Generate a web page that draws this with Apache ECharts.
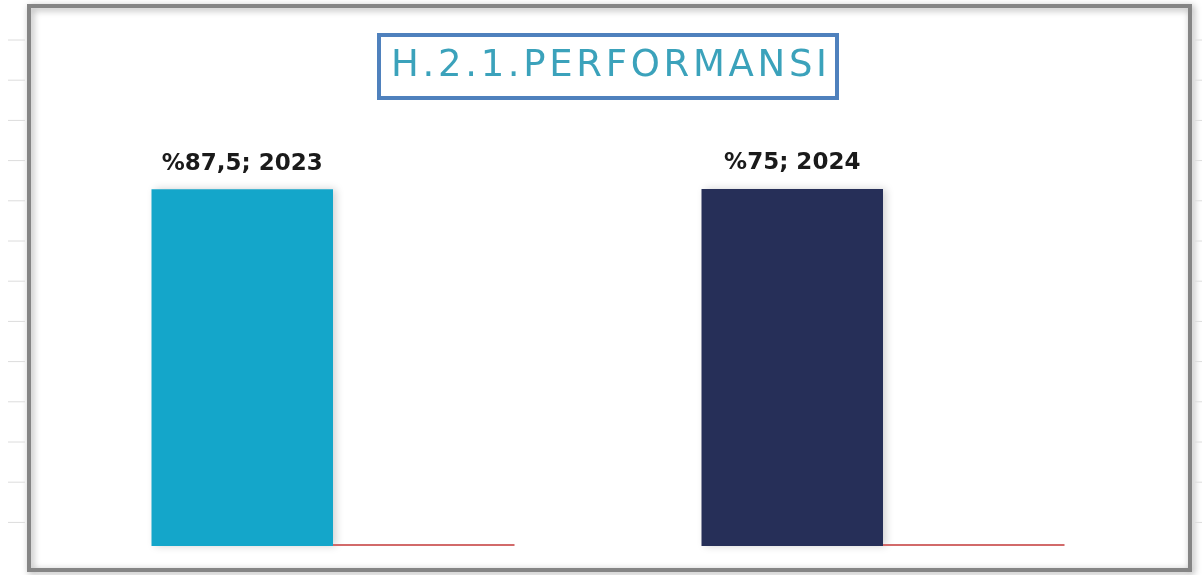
<!DOCTYPE html>
<html>
<head>
<meta charset="utf-8">
<script src="https://cdn.jsdelivr.net/npm/echarts@6/dist/echarts.min.js"></script>
<style>
html, body { margin: 0; padding: 0; background: #fff; }
#chart { width: 1202px; height: 575px; }
</style>
</head>
<body>
<div id="chart"></div>
<script>
// kategori etiketleri (yuzde) ve yillar
var categories = ['%87,5', '%75'];
var yearValues = [2023, 2024];
var percentValues = [0.875, 0.75];
var barColors = ['#14a6ca', '#262f58'];
var titleText = 'H.2.1.PERFORMANSI';

var dom = document.getElementById('chart');
var myChart = echarts.init(dom);

// arka plandaki tablo cizgileri (sol ve sag kenarda)
var deco = [];
for (var y = 40; y <= 562; y += 40.2) {
    deco.push({ type: 'line', shape: { x1: 8, y1: y, x2: 25, y2: y }, style: { stroke: '#dcdcdc', lineWidth: 1 }, silent: true });
    deco.push({ type: 'line', shape: { x1: 1195, y1: y, x2: 1202, y2: y }, style: { stroke: '#dcdcdc', lineWidth: 1 }, silent: true });
}
// cerceve
deco.push({
    type: 'rect', shape: { x: 29, y: 6, width: 1161, height: 564 },
    style: { fill: 'none', stroke: '#858585', lineWidth: 4, shadowBlur: 7, shadowColor: 'rgba(0,0,0,0.35)', shadowOffsetX: 2, shadowOffsetY: 2 },
    silent: true, z: -1
});
// baslik kutusu
deco.push({
    type: 'rect', shape: { x: 379, y: 35, width: 458, height: 63 },
    style: { fill: '#fff', stroke: '#4f81bd', lineWidth: 4 },
    silent: true
});
// harf araligi icin ince bosluk
deco.push({
    type: 'text', x: 609, y: 66,
    style: {
        text: titleText.split('').join('\u200A'),
        font: '37px "DejaVu Sans"',
        align: 'center', verticalAlign: 'middle',
        fill: '#3ba2bb'
    },
    silent: true
});

var option = {
    animation: false,
    graphic: deco,
    grid: { left: 58, right: 44, top: 105, bottom: 29 },
    xAxis: {
        type: 'category',
        data: categories,
        show: false
    },
    yAxis: {
        type: 'value',
        min: 0,
        max: 2500,
        show: false
    },
    series: [
        {
            type: 'bar',
            name: 'yil',
            data: yearValues.map(function (v, i) {
                return { value: v, itemStyle: { color: barColors[i] } };
            }),
            barGap: '0%',
            barCategoryGap: '34%',
            itemStyle: {
                shadowBlur: 8,
                shadowColor: 'rgba(0,0,0,0.18)',
                shadowOffsetX: 3
            },
            label: {
                show: true,
                position: 'top',
                distance: 14,
                formatter: '{b}; {c}',
                fontFamily: 'DejaVu Sans',
                fontWeight: 'bold',
                fontSize: 23,
                color: '#1a1a1a'
            }
        },
        {
            type: 'bar',
            name: 'yuzde',
            data: percentValues,
            barMinHeight: 2,
            itemStyle: { color: '#d26a6a' }
        }
    ]
};

myChart.setOption(option);
</script>
</body>
</html>
